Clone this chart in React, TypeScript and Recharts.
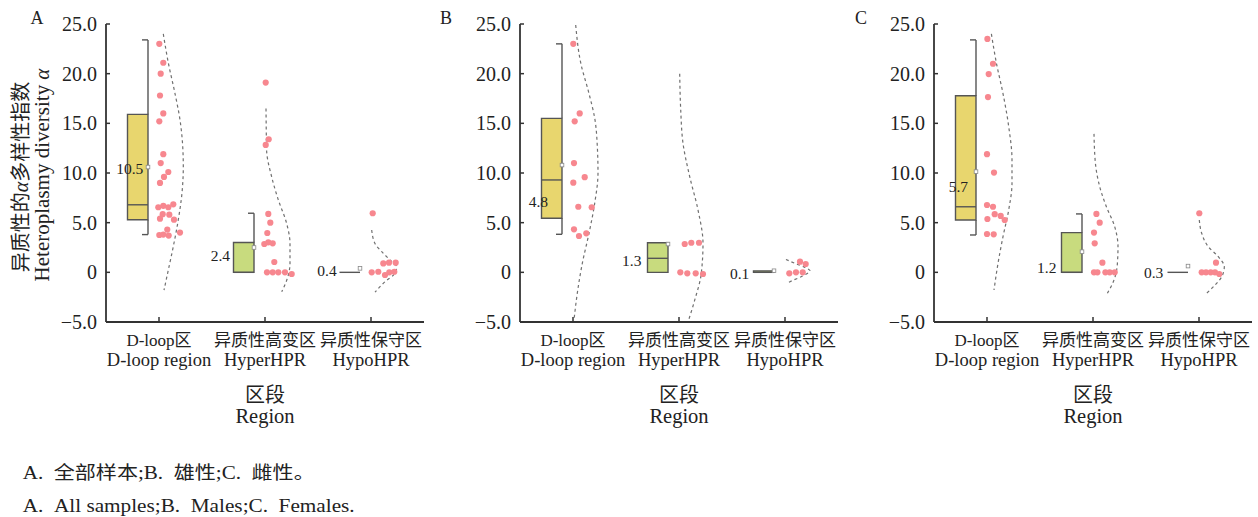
import React from 'react';
import { ComposedChart, XAxis, YAxis, Scatter, Line, ReferenceArea, ReferenceLine } from 'recharts';

// ---------------- data ----------------
const CATEGORIES_CN = ['D-loop区', '异质性高变区', '异质性保守区'];
const CATEGORIES_EN = ['D-loop region', 'HyperHPR', 'HypoHPR'];
// x axis expressed in band units: 106 units per category band
const X_DOMAIN = [0, 318];
const CAT_CENTERS = [53, 159, 265];
const Y_TICKS = [-5, 0, 5, 10, 15, 20, 25];
const PANEL_LETTERS = ['A', 'B', 'C'];

// box statistics per category: [min, q1, median, q3, max, mean]
const A_STATS = [[3.8, 5.3, 6.8, 15.9, 23.4, 10.6], [0, 0, 0, 3.0, 5.95, 2.5], [0, 0, 0, 0, 0, 0.4]];
const B_STATS = [[3.83, 5.44, 9.3, 15.5, 23.0, 10.8], [0, 0, 1.41, 2.98, 2.98, 2.85], [0, 0, 0, 0.15, 0.15, 0.16]];
const C_STATS = [[3.76, 5.27, 6.6, 17.77, 23.4, 10.14], [0, 0, 0, 4.0, 5.88, 2.08], [0, 0, 0, 0, 0, 0.63]];

// value labels beside boxes: text, [offset from category centre, value]
const A_LABELS = ['10.5', '2.4', '0.4'];
const B_LABELS = ['4.8', '1.3', '0.1'];
const C_LABELS = ['5.7', '1.2', '0.3'];
const A_LABEL_AT = [[-15.7, 10.5], [-35, 1.74], [-34.3, 0.16]];
const B_LABEL_AT = [[-25, 7.1], [-37.6, 1.24], [-35.7, -0.1]];
const C_LABEL_AT = [[-19, 8.63], [-36.6, 0.5], [-35.7, 0]];

// raw points: [jitter from category centre, value]
const A_DLOOP = [[0.3, 23.0], [4.3, 21.1], [1.7, 20.0], [1.0, 17.8], [4.3, 16.0], [0.3, 15.2], [4.3, 11.9], [1.7, 11.0], [9.3, 10.1], [5.0, 9.6], [1.0, 9.0], [-0.7, 6.55], [4.3, 6.7], [9.3, 6.55], [14.3, 6.85], [1.0, 5.4], [3.7, 5.85], [10.3, 5.8], [15.0, 5.3], [0.3, 3.76], [4.3, 3.8], [8.3, 4.3], [9.7, 3.7], [21.0, 4.0]];
const A_HYPER = [[0.7, 19.1], [3.7, 13.4], [0.7, 12.83], [3.3, 5.88], [5.3, 5.0], [2.3, 3.96], [-0.7, 2.85], [3.3, 3.02], [7.7, 2.92], [9.3, 1.04], [2, 0], [7.7, 0], [13.3, 0], [20, 0], [26.7, -0.17]];
const A_HYPO = [[1.7, 5.95], [0.7, 0], [7.3, 0.06], [12.3, 0.9], [18, 0.97], [24.7, 0.97], [14, -0.27], [18.3, 0], [23.3, 0.06]];
const B_DLOOP = [[0.3, 23.0], [6.7, 16.0], [1.7, 15.2], [1, 11.0], [11.7, 9.58], [0.3, 9.03], [5.3, 6.6], [18.7, 6.55], [1, 4.33], [6, 3.66], [13.3, 3.93]];
const B_HYPER = [[5.7, 2.85], [12.3, 2.98], [20, 2.98], [1.3, 0], [8.3, -0.1], [16.7, -0.1], [24, -0.17]];
const B_HYPO = [[15, 1.07], [20.7, 0.84], [4.3, -0.1], [11, 0], [17.7, 0]];
const C_DLOOP = [[0.4, 23.5], [6, 21.0], [1.7, 19.96], [1, 17.64], [0, 11.9], [7, 10.04], [0, 6.78], [6, 6.6], [7.7, 5.85], [13.7, 5.68], [17.7, 5.27], [0.4, 5.37], [0, 3.86], [6.7, 3.83]];
const C_HYPER = [[3.4, 5.88], [6.7, 5.0], [1, 4.0], [1.7, 2.92], [9.4, 0.97], [1, 0], [4.4, 0], [12.4, 0], [16.7, 0], [21.7, 0]];
const C_HYPO = [[0.3, 5.95], [17, 0.97], [2.7, 0], [7, 0], [11.7, 0], [16, 0], [20.3, -0.17]];

// half-violin density outlines: [width from category centre, value]
const A_DLOOP_DENS = [[4.3, 24.0], [9.3, 21.1], [16, 18.0], [21, 15.35], [23.7, 12.7], [24.3, 10.65], [23, 8.0], [19.3, 5.3], [14.3, 2.6], [9.3, 0.23], [5, -1.8]];
const A_HYPER_DENS = [[1, 16.5], [1.3, 14.0], [1.6, 12.3], [6.7, 9.6], [13.3, 7.3], [21.7, 4.9], [25, 2.9], [25, 0.9], [21.7, -0.8], [16.7, -1.95]];
const A_HYPO_DENS = [[0.7, 4.26], [4, 2.9], [10.7, 2.08], [19, 1.24], [25.7, 0.56], [23, -0.2], [14, -0.95], [4, -2.0]];
const B_DLOOP_DENS = [[2.7, 24.9], [7.7, 21.1], [16, 18.0], [22, 15.35], [24.3, 12.7], [25, 10.0], [21.7, 6.95], [16, 3.93], [9.3, 0.9], [4.3, -2.1], [1, -4.8]];
const B_HYPER_DENS = [[0.7, 20.0], [1.7, 16.4], [4, 13.0], [10.7, 9.64], [19, 6.28], [24, 2.92], [22.3, -0.1], [15.7, -2.8], [9, -5.0]];
const B_HYPO_DENS = [[1, 1.3], [10, 0.9], [20, 0.5], [25, 0.16], [17, -0.4], [8, -0.8], [1.7, -1.1]];
const C_DLOOP_DENS = [[4.4, 24.0], [9.4, 21.07], [16, 18.0], [21.7, 14.68], [25, 11.3], [25, 8.97], [21.7, 6.28], [16, 3.59], [11, 0.9], [7, -1.78]];
const C_HYPER_DENS = [[1, 13.94], [2.4, 11.0], [6.7, 8.63], [13.4, 6.6], [21.7, 4.6], [25, 2.58], [24.4, 0.9], [21, -0.78], [14.4, -2.1]];
const C_HYPO_DENS = [[0.3, 5.27], [2.7, 3.93], [9.3, 2.58], [19.3, 1.57], [25.3, 0.56], [22.7, -0.44], [16, -1.28], [7.7, -2.1]];

// ---------------- style ----------------
const SERIF = "'Liberation Serif', 'Times New Roman', 'Noto Sans CJK SC', serif";
const BOX_FILLS = ['#e8d66e', '#c8db7e', '#c8db7e'];
const BOX_STROKE = '#555555';
const AXIS = '#333333';
const TEXT = '#222222';
const POINT = '#f7878f';
const DENS = '#707070';
const BOX_L = -31.5;
const BOX_R = -11;
const CAP = 6;

const fmtY = (v: number) => (v === 0 ? '0' : v < 0 ? '\u2212' + Math.abs(v).toFixed(1) : v.toFixed(1));

const YTick = (props: any) => {
  const { x, y, payload } = props;
  return (
    <text x={x} y={y} dy={7} textAnchor="end" fontFamily={SERIF} fontSize={20} fill={TEXT}>
      {fmtY(payload.value)}
    </text>
  );
};

const XTick = (props: any) => {
  const { x, y, payload } = props;
  const i = CAT_CENTERS.indexOf(payload.value);
  return (
    <g>
      <text x={x} y={y + 24} textAnchor="middle" fontFamily={SERIF} fontSize={17} fill={TEXT}>
        {CATEGORIES_CN[i]}
      </text>
      <text x={x} y={y + 44} textAnchor="middle" fontFamily={SERIF} fontSize={18.5} fill={TEXT}>
        {CATEGORIES_EN[i]}
      </text>
    </g>
  );
};

const Dot = (props: any) => {
  const { cx, cy } = props;
  if (cx == null || cy == null) return null;
  return <circle cx={cx} cy={cy} r={3.1} fill={POINT} />;
};

const MeanMark = (props: any) => {
  const { cx, cy } = props;
  if (cx == null || cy == null) return null;
  return <rect x={cx - 1.8} y={cy - 1.8} width={3.6} height={3.6} fill="#ffffff" stroke="#888888" strokeWidth={0.8} />;
};

const ValueLabel = (props: any) => {
  const { cx, cy, payload } = props;
  if (cx == null || cy == null) return null;
  return (
    <text x={cx} y={cy} dy={5.5} textAnchor="end" fontFamily={SERIF} fontSize={15.5} fill={TEXT}>
      {payload.t}
    </text>
  );
};

type PanelProps = {
  stats: number[][];
  labels: string[];
  labelAt: number[][];
  points: number[][][];
  dens: number[][][];
};

const Panel = ({ stats, labels, labelAt, points, dens }: PanelProps) => {
  const pts = points.flatMap((arr, i) => arr.map(([dx, v]) => ({ x: CAT_CENTERS[i] + dx, y: v })));
  const means = stats.map((s, i) => ({ x: CAT_CENTERS[i] + BOX_R, y: s[5] }));
  const labs = labels.map((t, i) => ({ x: CAT_CENTERS[i] + labelAt[i][0], y: labelAt[i][1], t }));
  return (
    <ComposedChart width={430} height={430} margin={{ top: 24, right: 6, bottom: 0, left: 0 }}>
      <XAxis
        type="number"
        dataKey="x"
        domain={X_DOMAIN}
        ticks={CAT_CENTERS}
        allowDataOverflow
        height={108}
        tickSize={-5}
        tickMargin={5}
        tick={<XTick />}
        axisLine={{ stroke: AXIS, strokeWidth: 1.8 }}
        tickLine={{ stroke: AXIS, strokeWidth: 1.5 }}
        interval={0}
      />
      <YAxis
        type="number"
        dataKey="y"
        domain={[-5, 25]}
        ticks={Y_TICKS}
        allowDataOverflow
        width={106}
        tickSize={-4}
        tickMargin={13}
        tick={<YTick />}
        axisLine={{ stroke: AXIS, strokeWidth: 1.8 }}
        tickLine={{ stroke: AXIS, strokeWidth: 1.5 }}
        interval={0}
      />
      {stats.map((s, i) => {
        const c = CAT_CENTERS[i];
        const [mn, q1, md, q3, mx] = s;
        const els: any[] = [];
        if (mx > q3) {
          els.push(<ReferenceLine key={`wt${i}`} segment={[{ x: c + BOX_R, y: q3 }, { x: c + BOX_R, y: mx }]} stroke={BOX_STROKE} strokeWidth={1.4} />);
          els.push(<ReferenceLine key={`ct${i}`} segment={[{ x: c + BOX_R - CAP, y: mx }, { x: c + BOX_R, y: mx }]} stroke={BOX_STROKE} strokeWidth={1.4} />);
        }
        if (mn < q1) {
          els.push(<ReferenceLine key={`wb${i}`} segment={[{ x: c + BOX_R, y: mn }, { x: c + BOX_R, y: q1 }]} stroke={BOX_STROKE} strokeWidth={1.4} />);
          els.push(<ReferenceLine key={`cb${i}`} segment={[{ x: c + BOX_R - CAP, y: mn }, { x: c + BOX_R, y: mn }]} stroke={BOX_STROKE} strokeWidth={1.4} />);
        }
        if (q3 > q1) {
          els.push(<ReferenceArea key={`b${i}`} x1={c + BOX_L} x2={c + BOX_R} y1={q1} y2={q3} fill={BOX_FILLS[i]} fillOpacity={1} stroke={BOX_STROKE} strokeWidth={1.4} />);
        }
        els.push(<ReferenceLine key={`m${i}`} segment={[{ x: c + BOX_L, y: md }, { x: c + BOX_R, y: md }]} stroke={BOX_STROKE} strokeWidth={1.4} />);
        return els;
      })}
      {dens.map((d, i) => (
        <Line
          key={`d${i}`}
          data={d.map(([w, v]) => ({ x: CAT_CENTERS[i] + w, y: v }))}
          dataKey="y"
          type="monotoneY"
          stroke={DENS}
          strokeWidth={1.2}
          strokeDasharray="3 3"
          dot={false}
          activeDot={false}
          isAnimationActive={false}
        />
      ))}
      <Scatter data={pts} dataKey="y" shape={<Dot />} isAnimationActive={false} />
      <Scatter data={means} dataKey="y" shape={<MeanMark />} isAnimationActive={false} />
      <Scatter data={labs} dataKey="y" shape={<ValueLabel />} isAnimationActive={false} />
    </ComposedChart>
  );
};

const PANELS = [
  { stats: A_STATS, labels: A_LABELS, labelAt: A_LABEL_AT, points: [A_DLOOP, A_HYPER, A_HYPO], dens: [A_DLOOP_DENS, A_HYPER_DENS, A_HYPO_DENS] },
  { stats: B_STATS, labels: B_LABELS, labelAt: B_LABEL_AT, points: [B_DLOOP, B_HYPER, B_HYPO], dens: [B_DLOOP_DENS, B_HYPER_DENS, B_HYPO_DENS] },
  { stats: C_STATS, labels: C_LABELS, labelAt: C_LABEL_AT, points: [C_DLOOP, C_HYPER, C_HYPO], dens: [C_DLOOP_DENS, C_HYPER_DENS, C_HYPO_DENS] },
];
const PANEL_LEFT = [0, 414, 828];
const LETTER_X = [37, 446, 861];

export default function App() {
  return (
    <div style={{ position: 'absolute', left: 0, top: 0, width: 1258, height: 517, background: '#ffffff', overflow: 'hidden' }}>
      {PANELS.map((p, i) => (
        <div key={i} style={{ position: 'absolute', left: PANEL_LEFT[i], top: 0, width: 430, height: 430 }}>
          <Panel {...p} />
        </div>
      ))}
      <svg width={1258} height={517} style={{ position: 'absolute', left: 0, top: 0, pointerEvents: 'none' }}>
        {PANEL_LETTERS.map((l, i) => (
          <text key={l} x={LETTER_X[i]} y={24} textAnchor="middle" fontFamily={SERIF} fontSize={18} fill={TEXT}>
            {l}
          </text>
        ))}
        {PANEL_LEFT.map((l, i) => (
          <g key={`t${i}`}>
            <text x={l + 265} y={402} textAnchor="middle" fontFamily={SERIF} fontSize={20} fill={TEXT}>区段</text>
            <text x={l + 265} y={423} textAnchor="middle" fontFamily={SERIF} fontSize={20.5} fill={TEXT}>Region</text>
          </g>
        ))}
        <text transform="translate(28,177) rotate(-90)" textAnchor="middle" fontFamily={SERIF} fontSize={20} fill={TEXT}>
          异质性的<tspan fontStyle="italic">α</tspan>多样性指数
        </text>
        <text transform="translate(49,175) rotate(-90)" textAnchor="middle" fontFamily={SERIF} fontSize={21} fill={TEXT}>
          Heteroplasmy diversity <tspan fontStyle="italic">α</tspan>
        </text>
        <text x={22.7} y={479} fontFamily={SERIF} fontSize={18} fill={TEXT} textLength={292} lengthAdjust="spacingAndGlyphs">
          A.{'\u2002'}全部样本;B.{'\u2002'}雄性;C.{'\u2002'}雌性。
        </text>
        <text x={22.7} y={512} fontFamily={SERIF} fontSize={18} fill={TEXT} textLength={332} lengthAdjust="spacingAndGlyphs">
          A.{'\u2002'}All samples;B.{'\u2002'}Males;C.{'\u2002'}Females.
        </text>
      </svg>
    </div>
  );
}
